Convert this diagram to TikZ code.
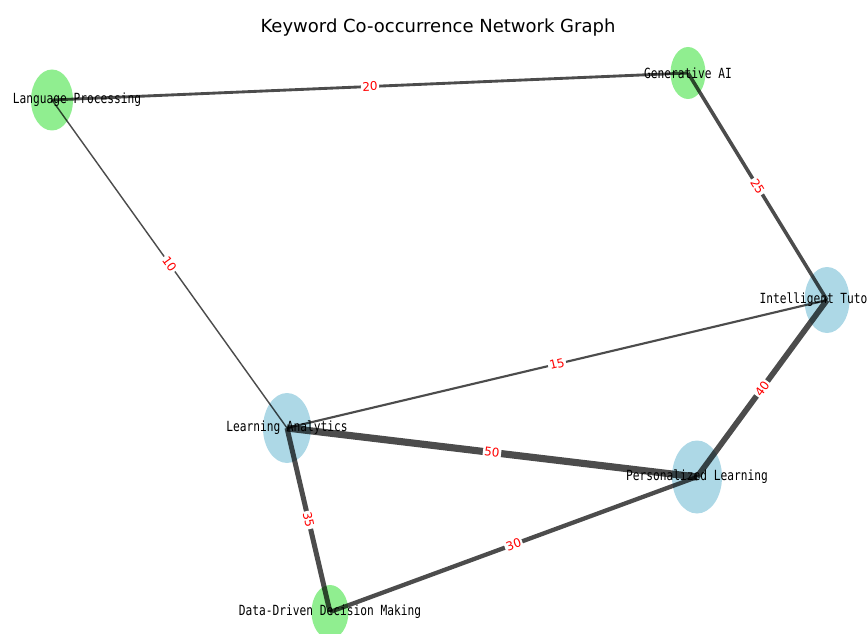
\documentclass[tikz,border=0pt]{standalone}
\usepackage{fontspec}
\setmainfont{DejaVu Sans}
\newfontfamily\kwfont[FakeStretch=0.8]{DejaVu Sans Mono}
\usetikzlibrary{shapes.geometric}
\definecolor{kwgreen}{RGB}{144,238,144}
\definecolor{kwblue}{RGB}{173,216,230}
\begin{document}
\begin{tikzpicture}
  [x=1pt,y=1pt,
   kw/.style={ellipse,inner sep=0pt},
   kwtext/.style={font=\kwfont\fontsize{14}{14}\selectfont,inner sep=0pt},
   wlabel/.style={midway,sloped,fill=white,inner sep=1.5pt,text=red,
     font=\fontsize{12}{12}\selectfont}]
\useasboundingbox (0,0) rectangle (867,633);
\clip (0,0) rectangle (867,633);
\node (title) at (438,605) {\fontsize{18}{18}\selectfont Keyword Co-occurrence Network Graph};

\node (lp)[kw,fill=kwgreen,minimum width=42,minimum height=61] at (52,533) {};
  \node (gai)[kw,fill=kwgreen,minimum width=35,minimum height=52] at (688,560) {};
  \node (its)[kw,fill=kwblue,minimum width=45,minimum height=66] at (827,333) {};
  \node (la)[kw,fill=kwblue,minimum width=48,minimum height=70] at (287,205) {};
  \node (pl)[kw,fill=kwblue,minimum width=50,minimum height=73] at (697,156) {};
  \node (ddm)[kw,fill=kwgreen,minimum width=37,minimum height=54] at (330,21) {};

 \foreach \from/\to/\w in {lp/gai/20,gai/its/25,lp/la/10,la/its/15,la/pl/50,its/pl/40,la/ddm/35,pl/ddm/30}
    \draw[black,draw opacity=.7,line width=\w/7] (\from.center) -- node[wlabel] {\w} (\to.center);

\node (lp-t)[kwtext] at (77,533) {Language Processing};
  \node (gai-t)[kwtext] at (gai) {Generative AI};
  \node (its-t)[kwtext] at (its) {Intelligent Tutoring};
  \node (la-t)[kwtext] at (la) {Learning Analytics};
  \node (pl-t)[kwtext] at (pl) {Personalized Learning};
  \node (ddm-t)[kwtext] at (ddm) {Data-Driven Decision Making};
\end{tikzpicture}
\end{document}
